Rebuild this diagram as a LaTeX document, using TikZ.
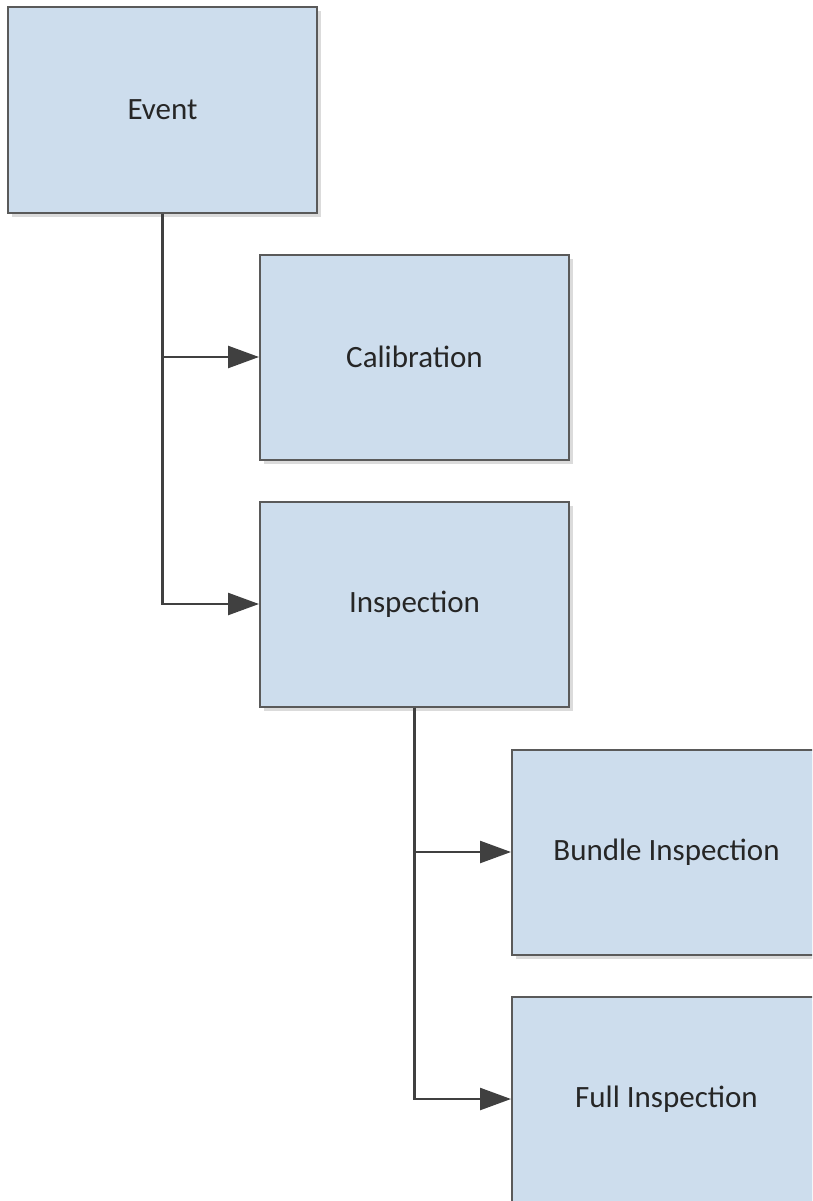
\documentclass[tikz,border=0pt]{standalone}
\usepackage{fontspec}
\setmainfont{Carlito}
\usetikzlibrary{arrows.meta,shadows}
\definecolor{boxfill}{RGB}{205,221,237}
\definecolor{boxline}{RGB}{90,90,90}
\definecolor{conn}{RGB}{64,64,64}
\tikzset{
  box/.style={draw=boxline, line width=2pt, fill=boxfill, minimum width=309pt, minimum height=205pt,
    inner sep=0pt, font=\fontsize{31}{36}\selectfont, text=black!85,
    drop shadow={shadow xshift=4pt, shadow yshift=-4pt, fill=black!14, opacity=1}},
  conn/.style={draw=conn, line width=2.5pt},
  arr/.style={conn, -{Triangle[length=31pt,width=22pt]}}
}
\begin{document}
\begin{tikzpicture}[x=1pt,y=-1pt]
\useasboundingbox (0,0) rectangle (812,1201);
\clip (0,0) rectangle (812,1201);
\node[box] (event) at (162.5,110) {Event};
\node[box] (calib) at (414.5,357) {Calibration};
\node[box] (insp) at (414.5,604) {Inspection};
\node[box] (bundle) at (666.5,852) {Bundle Inspection};
\node[box] (full) at (666.5,1099) {Full Inspection};
\coordinate (j1) at (event.south |- calib.west);
\coordinate (j2) at (event.south |- insp.west);
\coordinate (j3) at (insp.south |- bundle.west);
\coordinate (j4) at (insp.south |- full.west);
\draw[conn] (event.south) -- (j2);
\draw[arr] (j1) -- (calib.west);
\draw[arr, line join=miter] (event.south) -- (j2) -- (insp.west);
\draw[conn] (insp.south) -- (j4);
\draw[arr] (j3) -- (bundle.west);
\draw[arr, line join=miter] (insp.south) -- (j4) -- (full.west);
\end{tikzpicture}
\end{document}
